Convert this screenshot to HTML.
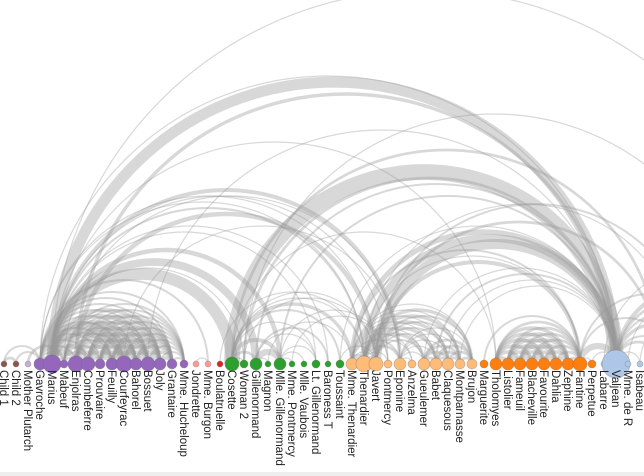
<!DOCTYPE html>
<html><head><meta charset="utf-8">
<style>
html,body{margin:0;padding:0;background:#fff;}
svg{display:block;}
text{font-family:"Liberation Sans",sans-serif;font-size:11.5px;fill:#222;}
</style></head>
<body>
<svg id="s" width="644" height="476" viewBox="0 0 644 476">
<rect x="0" y="472" width="644" height="4" fill="#eee"/>
<g id="arcs" fill="none" stroke="#999" stroke-opacity="0.38"></g>
<g id="nodes"></g>
<g id="labels"></g>
</svg>
<script>
var N=[["Child 1","#8c564b",3],["Child 2","#8c564b",3],["Mother Plutarch","#c5b0d5",3],["Gavroche","#9467bd",6],["Marius","#9467bd",9],["Mabeuf","#9467bd",4],["Enjolras","#9467bd",8],["Combeferre","#9467bd",7],["Prouvaire","#9467bd",5],["Feuilly","#9467bd",6],["Courfeyrac","#9467bd",8],["Bahorel","#9467bd",6],["Bossuet","#9467bd",7],["Joly","#9467bd",6],["Grantaire","#9467bd",5],["Mme. Hucheloup","#9467bd",4],["Jondrette","#ff9896",3],["Mme. Burgon","#ff9896",3],["Boulatruelle","#d62728",3],["Cosette","#2ca02c",7],["Woman 2","#2ca02c",4],["Gillenormand","#2ca02c",6],["Magnon","#2ca02c",3],["Mlle. Gillenormand","#2ca02c",6],["Mme. Pontmercy","#2ca02c",3],["Mlle. Vaubois","#2ca02c",3],["Lt. Gillenormand","#2ca02c",4],["Baroness T","#2ca02c",3],["Toussaint","#2ca02c",4],["Mme. Thenardier","#ffbb78",6],["Thenardier","#ffbb78",8],["Javert","#ffbb78",7],["Pontmercy","#ffbb78",4],["Eponine","#ffbb78",6],["Anzelma","#ffbb78",4],["Gueulemer","#ffbb78",6],["Babet","#ffbb78",6],["Claquesous","#ffbb78",6],["Montparnasse","#ffbb78",5],["Brujon","#ffbb78",5],["Marguerite","#ff7f0e",4],["Tholomyes","#ff7f0e",6],["Listolier","#ff7f0e",6],["Fameuil","#ff7f0e",6],["Blacheville","#ff7f0e",6],["Favourite","#ff7f0e",6],["Dahlia","#ff7f0e",6],["Zephine","#ff7f0e",6],["Fantine","#ff7f0e",7],["Perpetue","#ff7f0e",4],["Labarre","#aec7e8",3],["Valjean","#aec7e8",14],["Mme. de R","#aec7e8",3],["Isabeau","#aec7e8",3]];
var idx={};N.forEach(function(n,i){idx[n[0]]=i;});
function X(i){return 4+12*i;}
var Y=364;
var L=[];
function l(a,b,v){L.push([typeof a=="number"?a:X(idx[a]),typeof b=="number"?b:X(idx[b]),v]);}
var V="Valjean";
l(V,"Labarre",1);l(V,"Mme. de R",1);l(V,"Isabeau",1);l(V,"Fantine",9);l(V,"Mme. Thenardier",7);l(V,"Thenardier",12);l(V,"Cosette",31);l(V,"Javert",17);l(V,"Gillenormand",2);l(V,"Marius",19);l(V,"Enjolras",4);l(V,"Gavroche",1);l(V,"Woman 2",3);l(V,"Toussaint",1);l(V,"Babet",2);l(V,"Gueulemer",1);l(V,"Claquesous",1);l(V,"Montparnasse",1);l(V,"Mlle. Gillenormand",2);l(V,"Perpetue",1);
var tg=["Tholomyes","Listolier","Fameuil","Blacheville","Favourite","Dahlia","Zephine","Fantine"];
for(var i=0;i<tg.length;i++)for(var j=i+1;j<tg.length;j++)l(tg[i],tg[j],tg[j]=="Fantine"?3:4);
l("Perpetue","Fantine",1);l("Marguerite","Fantine",2);l("Fantine","Mme. Thenardier",2);l("Fantine","Thenardier",1);l("Fantine","Javert",5);
l("Thenardier","Mme. Thenardier",13);l("Thenardier","Eponine",3);l("Thenardier","Javert",5);l("Thenardier","Marius",2);l("Thenardier","Pontmercy",1);l("Thenardier","Boulatruelle",1);l("Thenardier","Gavroche",1);l("Thenardier","Cosette",1);
var gang=["Gueulemer","Babet","Claquesous","Montparnasse","Brujon"];
for(i=0;i<gang.length;i++){l("Thenardier",gang[i],4);l("Javert",gang[i],2);l("Mme. Thenardier",gang[i],1);l("Eponine",gang[i],1);for(j=i+1;j<gang.length;j++)l(gang[i],gang[j],3);}
l("Mme. Thenardier","Eponine",2);l("Mme. Thenardier","Anzelma",1);l("Thenardier","Anzelma",1);l("Eponine","Anzelma",1);l("Mme. Thenardier","Javert",1);l("Mme. Thenardier","Cosette",4);
l("Eponine","Marius",5);l("Marius","Cosette",21);l("Marius","Gillenormand",12);l("Marius","Mlle. Gillenormand",6);l("Marius","Pontmercy",1);l("Marius","Lt. Gillenormand",1);l("Marius","Baroness T",1);l("Marius","Tholomyes",1);l("Marius","Woman 2",1);
l("Cosette","Gillenormand",3);l("Cosette","Mlle. Gillenormand",5);l("Cosette","Woman 2",1);l("Cosette","Lt. Gillenormand",1);l("Cosette","Toussaint",2);l("Cosette","Javert",1);l("Cosette","Tholomyes",1);
l("Gillenormand","Mlle. Gillenormand",9);l("Gillenormand","Magnon",1);l("Gillenormand","Lt. Gillenormand",1);l("Gillenormand","Baroness T",2);l("Mlle. Gillenormand","Mlle. Vaubois",1);l("Mlle. Gillenormand","Lt. Gillenormand",1);l("Mlle. Gillenormand","Mme. Pontmercy",1);l("Mme. Pontmercy","Pontmercy",1);l("Mlle. Gillenormand","Pontmercy",1);l("Javert","Toussaint",1);l("Woman 2","Javert",1);l("Magnon","Mme. Thenardier",1);
var eg=["Gavroche","Marius","Mabeuf","Enjolras","Combeferre","Prouvaire","Feuilly","Courfeyrac","Bahorel","Bossuet","Joly","Grantaire","Mme. Hucheloup"];
for(i=0;i<eg.length;i++)for(j=i+1;j<eg.length;j++){var a=eg[i],b=eg[j];if((a=="Marius"&&(b=="Prouvaire"||b=="Grantaire"||b=="Mme. Hucheloup")))continue;var v=2;if(a=="Marius"&&b=="Courfeyrac")v=21;else if(a=="Marius"&&b=="Enjolras")v=7;else if(a=="Marius"&&b=="Combeferre")v=5;else if(a=="Marius"&&b=="Bossuet")v=5;else if(a=="Gavroche"&&b=="Marius")v=4;else if(a!="Gavroche"&&a!="Mabeuf"&&b!="Mme. Hucheloup"&&b!="Mabeuf")v=4;l(a,b,v);}
l("Mother Plutarch","Mabeuf",3);l("Child 1","Gavroche",2);l("Child 2","Gavroche",2);l("Child 1","Child 2",3);l("Jondrette","Mme. Burgon",1);l("Mme. Burgon","Gavroche",2);l("Gavroche","Javert",1);l("Enjolras","Javert",6);l("Bossuet","Valjean",1);l("Courfeyrac","Eponine",1);l("Mabeuf","Eponine",1);
var off=[660,672,684,696,708,720,732,744,770,800];
[[V,0,3],[V,1,2],[V,3,4],[V,5,2],[V,7,3],[V,8,5],["Javert",0,3],["Javert",3,2],["Fantine",1,2],["Fantine",5,2],["Cosette",0,3],["Thenardier",2,1],["Marius",9,1],["Woman 2",7,1],["Labarre",9,1],["Mme. de R",8,1],["Isabeau",7,1]].forEach(function(e){l(e[0],off[e[1]],e[2]);});
var g=document.getElementById("arcs"),s="";
L.forEach(function(e){var a=Math.min(e[0],e[1]),b=Math.max(e[0],e[1]),r=(b-a)/2;s+='<path d="M'+a+','+Y+' A'+r+','+r+' 0 0,1 '+b+','+Y+'" stroke-width="'+(1.2*Math.pow(e[2],0.75)).toFixed(2)+'"/>';});
g.innerHTML=s;
var ns="",ls="";
N.forEach(function(n,i){var x=X(i);ns+='<circle cx="'+x+'" cy="'+Y+'" r="'+n[2]+'" fill="'+n[1]+'" stroke="#666" stroke-opacity="0.4" stroke-width="0.7"/>';ls+='<text transform="translate('+(x-4)+',370) rotate(90)">'+n[0]+'</text>';});
document.getElementById("nodes").innerHTML=ns;document.getElementById("labels").innerHTML=ls;
</script>
</body></html>
